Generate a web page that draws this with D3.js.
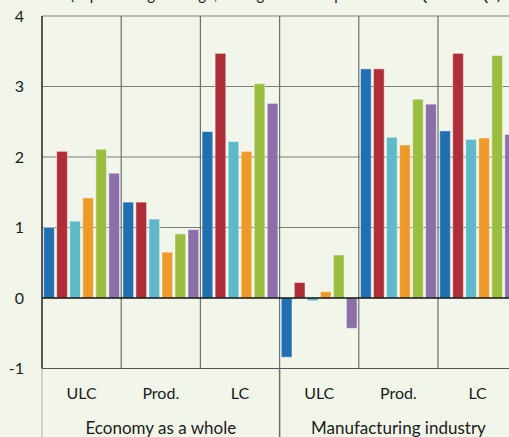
<!DOCTYPE html>
<html>
<head>
<meta charset="utf-8">
<script src="https://cdn.jsdelivr.net/npm/d3@7"></script>
<style>
  body { margin: 0; background: #f2f6ea; }
  svg { display: block; }
  text { font-family: Lato, 'Open Sans', sans-serif; fill: #1a1a1a; }
</style>
</head>
<body>
<div id="chart"></div>
<script>
(function() {
  let width = 509
  let height = 437
  let margin = { top: 16, left: 42, bottom: 68.5 }
  let groupWidth = 79.2

  // data
  let sectors = ['Economy as a whole', 'Manufacturing industry']
  let measures = ['ULC', 'Prod.', 'LC']
  let seriesNames = ['s1', 's2', 's3', 's4', 's5', 's6']
  let seriesColors = ['#1f6fb1', '#b02e38', '#5ebac9', '#ee9a2b', '#9bbe40', '#8a6fa8']

  let economyULC = [1.00, 2.08, 1.09, 1.42, 2.11, 1.77]
  let economyProd = [1.36, 1.36, 1.12, 0.65, 0.91, 0.97]
  let economyLC = [2.36, 3.47, 2.22, 2.08, 3.04, 2.76]
  let manufULC = [-0.84, 0.22, -0.04, 0.09, 0.61, -0.43]
  let manufProd = [3.25, 3.25, 2.28, 2.17, 2.82, 2.75]
  let manufLC = [2.37, 3.47, 2.25, 2.27, 3.44, 2.32]

  let yTicks = [-1, 0, 1, 2, 3, 4]
  let title = '(in percentage change, average over the period 2000Q4-2015Q4)'

  let categories = [
    { sector: sectors[0], measure: measures[0], values: economyULC },
    { sector: sectors[0], measure: measures[1], values: economyProd },
    { sector: sectors[0], measure: measures[2], values: economyLC },
    { sector: sectors[1], measure: measures[0], values: manufULC },
    { sector: sectors[1], measure: measures[1], values: manufProd },
    { sector: sectors[1], measure: measures[2], values: manufLC }
  ]
  categories.forEach((c, i) => { c.key = i })

  let svg = d3
    .select('#chart')
    .append('svg')
    .attr('width', width)
    .attr('height', height)

  svg.append('rect')
    .attr('width', width)
    .attr('height', height)
    .attr('fill', '#f2f6ea')

  let plotRight = margin.left + groupWidth * categories.length

  let xPositionScale = d3.scaleBand()
    .domain(categories.map(d => d.key))
    .range([margin.left, plotRight])

  let seriesScale = d3.scaleBand()
    .domain(d3.range(seriesNames.length))
    .range([0, xPositionScale.bandwidth()])
    .paddingInner(0.18)
    .paddingOuter(0.13)

  let sectorScale = d3.scaleBand()
    .domain(sectors)
    .range([margin.left, plotRight])

  let yPositionScale = d3.scaleLinear()
    .domain([-1, 4])
    .range([height - margin.bottom, margin.top])

  // title, cut off at the top as in the source
  svg.append('text')
    .attr('x', 70)
    .attr('y', 0)
    .attr('font-size', 15)
    .text(title)

  // horizontal grid
  svg.append('g')
    .selectAll('line')
    .data(yTicks.filter(d => d !== 0))
    .enter()
    .append('line')
    .attr('x1', margin.left)
    .attr('x2', plotRight)
    .attr('y1', d => yPositionScale(d))
    .attr('y2', d => yPositionScale(d))
    .attr('stroke', d => d === -1 ? '#555' : '#7d7d7d')
    .attr('stroke-width', 1.2)

  // vertical grid between categories
  svg.append('g')
    .selectAll('line')
    .data(categories.slice(1))
    .enter()
    .append('line')
    .attr('x1', d => xPositionScale(d.key))
    .attr('x2', d => xPositionScale(d.key))
    .attr('y1', yPositionScale(4))
    .attr('y2', yPositionScale(-1))
    .attr('stroke', '#6e6e6e')
    .attr('stroke-width', 1.2)

  // sector separators below the plot
  svg.append('g')
    .selectAll('line')
    .data(sectors)
    .enter()
    .append('line')
    .attr('x1', d => sectorScale(d))
    .attr('x2', d => sectorScale(d))
    .attr('y1', yPositionScale(-1))
    .attr('y2', height)
    .attr('stroke', (d, i) => i === 0 ? '#c4c4c4' : '#6e6e6e')
    .attr('stroke-width', 1.5)

  // bars
  let catGroups = svg.append('g')
    .selectAll('g')
    .data(categories)
    .enter()
    .append('g')
    .attr('transform', d => 'translate(' + xPositionScale(d.key) + ',0)')

  catGroups.selectAll('rect')
    .data(d => d.values)
    .enter()
    .append('rect')
    .attr('x', (d, i) => seriesScale(i))
    .attr('width', seriesScale.bandwidth())
    .attr('y', d => yPositionScale(Math.max(0, d)))
    .attr('height', d => Math.abs(yPositionScale(d) - yPositionScale(0)))
    .attr('fill', (d, i) => seriesColors[i])
    .attr('stroke', 'rgba(255,255,255,0.45)')
    .attr('stroke-width', 1)

  // zero line
  svg.append('line')
    .attr('x1', margin.left)
    .attr('x2', plotRight)
    .attr('y1', yPositionScale(0))
    .attr('y2', yPositionScale(0))
    .attr('stroke', '#111')
    .attr('stroke-width', 1.5)

  // left axis line
  svg.append('line')
    .attr('x1', margin.left)
    .attr('x2', margin.left)
    .attr('y1', yPositionScale(4))
    .attr('y2', yPositionScale(-1))
    .attr('stroke', '#222')
    .attr('stroke-width', 1.5)

  // y tick labels
  svg.append('g')
    .selectAll('text')
    .data(yTicks)
    .enter()
    .append('text')
    .attr('x', 24)
    .attr('y', d => yPositionScale(d))
    .attr('dy', '0.36em')
    .attr('text-anchor', 'end')
    .attr('font-size', 16)
    .text(d => d)

  // measure labels
  svg.append('g')
    .selectAll('text')
    .data(categories)
    .enter()
    .append('text')
    .attr('x', d => xPositionScale(d.key) + xPositionScale.bandwidth() / 2)
    .attr('y', 399)
    .attr('text-anchor', 'middle')
    .attr('font-size', 16)
    .text(d => d.measure)

  // sector labels
  svg.append('g')
    .selectAll('text')
    .data(sectors)
    .enter()
    .append('text')
    .attr('x', d => sectorScale(d) + sectorScale.bandwidth() / 2)
    .attr('y', 434)
    .attr('text-anchor', 'middle')
    .attr('font-size', 17)
    .text(d => d)
})()
</script>
</body>
</html>
